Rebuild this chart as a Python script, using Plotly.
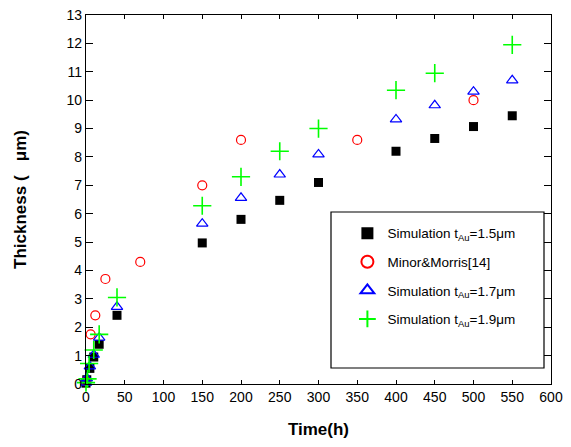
import plotly.graph_objects as go

# ---- data ----
t_sim15 = [0, 1, 5, 10, 17, 40, 150, 200, 250, 300, 400, 450, 500, 550]
y_sim15 = [0.03, 0.15, 0.55, 0.95, 1.4, 2.42, 4.97, 5.8, 6.47, 7.1, 8.2, 8.65, 9.07, 9.45]

t_minor = [0, 6, 12, 25, 70, 150, 200, 350, 500]
y_minor = [0.1, 1.75, 2.42, 3.7, 4.3, 7.0, 8.6, 8.6, 10.0]

t_sim17 = [0, 1, 5, 10, 17, 40, 150, 200, 250, 300, 400, 450, 500, 550]
y_sim17 = [0.05, 0.2, 0.62, 1.03, 1.63, 2.72, 5.65, 6.56, 7.38, 8.09, 9.32, 9.82, 10.3, 10.7]

t_sim19 = [0, 2, 4, 10, 17, 40, 150, 200, 250, 300, 400, 450, 550]
y_sim19 = [0.05, 0.18, 0.72, 1.2, 1.75, 3.05, 6.28, 7.3, 8.2, 9.0, 10.35, 10.95, 11.95]

names = ["Simulation t<sub>Au</sub>=1.5\u03bcm", "Minor&Morris[14]",
         "Simulation t<sub>Au</sub>=1.7\u03bcm", "Simulation t<sub>Au</sub>=1.9\u03bcm"]

x_ticks = list(range(0, 601, 50))
x_major = list(range(0, 601, 100))
y_ticks = list(range(0, 14))

FONT = "Liberation Sans, Arial, sans-serif"
GREEN = "#00ff00"

PW = 465  # plot width in px (for paper-coordinate conversions)

fig = go.Figure()
fig.add_trace(go.Scatter(x=t_sim15, y=y_sim15, mode="markers", name=names[0], legendgroup="a",
                         marker=dict(symbol="square", size=9, color="black"), cliponaxis=False))
fig.add_trace(go.Scatter(x=t_minor, y=y_minor, mode="markers", name=names[1], legendgroup="b",
                         marker=dict(symbol="circle-open", size=9, color="red", line=dict(width=1.2)),
                         cliponaxis=False))
fig.add_trace(go.Scatter(x=t_sim17, y=y_sim17, mode="markers", name=names[2], legendgroup="c",
                         marker=dict(symbol="triangle-up-open", size=10, color="blue", line=dict(width=1.2)),
                         cliponaxis=False))
fig.add_trace(go.Scatter(x=t_sim19, y=y_sim19, mode="markers", name=names[3], legendgroup="d",
                         marker=dict(symbol="cross-thin-open", size=13, color=GREEN, line=dict(width=1.6, color=GREEN)),
                         cliponaxis=False))

fig.update_layout(
    width=555, height=431,
    margin=dict(l=78, r=12, t=7, b=55, autoexpand=False),
    paper_bgcolor="white", plot_bgcolor="white",
    font=dict(family=FONT, size=14, color="black"),
    showlegend=True,
    legend=dict(x=261.4 / PW, y=0.45, xanchor="left", yanchor="top",
                bgcolor="rgba(0,0,0,0)", borderwidth=0,
                font=dict(family=FONT, size=13.5),
                traceorder="grouped", tracegroupgap=8, itemwidth=30,
                itemsizing="constant"),
    xaxis=dict(range=[0, 600], tickvals=x_ticks, ticks="inside", ticklen=4, tickwidth=1.2,
               tickcolor="black", showline=True, linecolor="black", linewidth=1.3,
               mirror="ticks", showgrid=False, zeroline=False, automargin=False,
               ticklabeloverflow="allow",
               title=dict(text="<b>Time(h)</b>", font=dict(size=17), standoff=22)),
    xaxis2=dict(range=[0, 600], overlaying="x", tickvals=x_major, ticks="inside", ticklen=8,
                tickwidth=1.2, tickcolor="black", showticklabels=False, showline=False,
                mirror="ticks", showgrid=False, zeroline=False, side="bottom", automargin=False),
    yaxis=dict(range=[0, 13], tickvals=y_ticks, ticks="inside", ticklen=7, tickwidth=1.2,
               tickcolor="black", showline=True, linecolor="black", linewidth=1.3,
               mirror="ticks", showgrid=False, zeroline=False, automargin=False,
               ticklabeloverflow="allow",
               title=dict(text="<b>Thickness (   \u03bcm)</b>", font=dict(size=17), standoff=35)),
)

# legend frame
fig.add_shape(type="rect", xref="paper", yref="paper",
              x0=(331 - 86) / PW, x1=(544 - 86) / PW,
              y0=(384 - 368) / 369, y1=(384 - 212) / 369,
              line=dict(color="black", width=1.2), fillcolor="rgba(0,0,0,0)")

fig.write_html("out.html")
